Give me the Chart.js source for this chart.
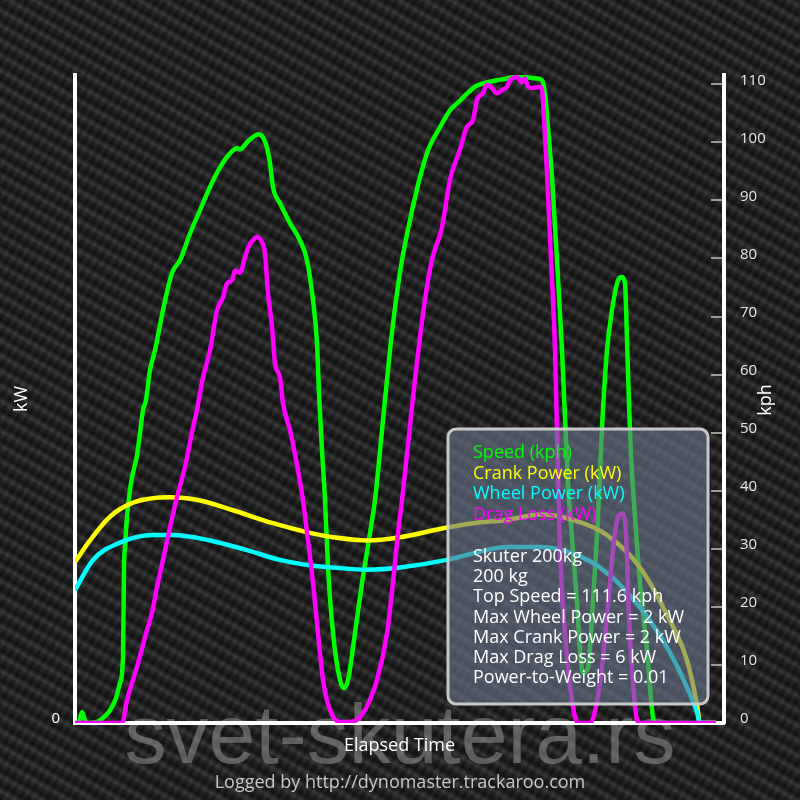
<!DOCTYPE html>
<html>
<head>
<meta charset="utf-8">
<script src="https://cdn.jsdelivr.net/npm/chart.js@4.4.0/dist/chart.umd.min.js"></script>
<style>
  body { margin: 0; background: #222; }
  #wrap {
    width: 800px;
    height: 800px;
    background-color: #262626;
    background-image:
      repeating-linear-gradient(30deg, rgba(0,0,0,0.45) 0px, rgba(0,0,0,0.1) 5px, rgba(255,255,255,0.07) 8px, rgba(0,0,0,0.45) 13px),
      repeating-linear-gradient(120deg, rgba(0,0,0,0.25) 0px, rgba(255,255,255,0.04) 4px, rgba(0,0,0,0.25) 8px);
  }
</style>
</head>
<body>
<div id="wrap"><canvas id="dyno" width="800" height="800"></canvas></div>
<script>
var speedTime = [0, 4, 7, 10, 13, 22, 30, 35, 41, 45, 48, 49, 50, 52, 55, 57, 62, 65, 68, 71,
  75, 80, 88, 97, 105, 115, 125, 135, 145, 155, 162, 165, 172, 178, 183, 188, 192, 195, 198, 205,
  215, 225, 232, 238, 242, 244, 247, 250, 253, 258, 265, 269, 273, 280, 287, 295, 300, 307, 315, 321,
  327, 335, 345, 353, 365, 375, 385, 392, 402, 412, 422, 432, 442, 452, 462, 467, 470, 473, 477, 480,
  482, 487, 490, 493, 498, 503, 505, 508, 513, 518, 523, 527, 532, 537, 543, 547, 550, 552, 554, 556,
  560, 565, 572, 578, 581, 641];
var speedKph = [0, 0.2, 1.9, 0.5, 0, 0.2, 1.2, 2.2, 4.3, 6.9, 11.4, 26.9, 30.3, 35.5, 40.1, 42.3, 46.1, 49.9, 53.9, 55.6,
  60.8, 64.2, 71.1, 77.5, 79.7, 84.3, 88.3, 92.3, 95.7, 98.1, 99.0, 98.8, 100.0, 100.9, 101.4, 100.9, 99.1, 96.4, 92.3, 89.5,
  86.1, 83.1, 79.7, 72.8, 65.4, 56.8, 47.0, 38.4, 26.9, 15.5, 7.4, 6.0, 7.4, 15.5, 24.1, 32.7, 38.4, 50.4, 64.2, 72.8,
  79.7, 86.6, 94.0, 98.6, 102.6, 105.5, 107.2, 108.4, 109.8, 110.3, 110.7, 111.0, 111.4, 111.2, 111.0, 110.7, 108.4, 102.6, 94.0, 85.4,
  79.7, 64.2, 52.7, 41.3, 29.8, 18.2, 12.6, 8.6, 9.6, 21.2, 35.5, 50.9, 64.2, 71.1, 76.2, 76.8, 75.7, 66.0, 55.0, 46.0,
  35.5, 24.1, 12.6, 1.0, 0, 0];

var crankTime = [0, 15, 35, 58, 95, 125, 158, 198, 235, 258, 292, 325, 372, 398, 432, 465, 498, 532, 565, 592, 612, 622, 625, 641];
var crankKw = [1.49, 1.69, 1.91, 2.04, 2.09, 2.06, 1.97, 1.85, 1.76, 1.72, 1.69, 1.72, 1.81, 1.85, 1.88, 1.93, 1.88, 1.74, 1.44, 1.00, 0.58, 0.17, 0, 0];

var wheelTime = [0, 18, 45, 78, 98, 135, 172, 205, 235, 258, 292, 325, 372, 398, 432, 465, 498, 532, 565, 592, 612, 622, 625, 641];
var wheelKw = [1.23, 1.51, 1.67, 1.74, 1.74, 1.69, 1.60, 1.51, 1.46, 1.44, 1.42, 1.44, 1.51, 1.57, 1.63, 1.63, 1.57, 1.39, 1.07, 0.70, 0.33, 0.10, 0, 0];

var dragTime = [0, 47, 52, 62, 72, 77, 82, 88, 95, 102, 110, 117, 122, 128, 135, 142, 148, 152, 157, 160,
  165, 170, 173, 178, 182, 187, 190, 193, 197, 200, 205, 208, 215, 222, 228, 233, 238, 243, 248, 255,
  265, 275, 288, 302, 312, 318, 323, 327, 335, 340, 350, 357, 367, 375, 385, 392, 398, 402, 408, 412,
  417, 422, 427, 432, 435, 442, 447, 450, 453, 458, 465, 467, 469, 472, 476, 480, 482, 485, 490, 497,
  503, 515, 525, 532, 538, 543, 547, 551, 554, 558, 562, 565, 641];
var dragKw = [0, 0, 0.21, 0.52, 0.86, 1.02, 1.26, 1.51, 1.81, 2.09, 2.37, 2.69, 2.90, 3.20, 3.45, 3.82, 3.94, 4.07, 4.10, 4.19,
  4.17, 4.31, 4.40, 4.47, 4.50, 4.45, 4.35, 3.98, 3.67, 3.33, 3.20, 2.96, 2.71, 2.39, 2.06, 1.69, 1.30, 0.83, 0.40, 0.12,
  0.01, 0.01, 0.09, 0.40, 0.83, 1.30, 1.76, 2.06, 2.75, 3.18, 3.92, 4.29, 4.59, 5.03, 5.31, 5.52, 5.58, 5.77, 5.83, 5.91,
  5.88, 5.83, 5.86, 5.89, 5.95, 5.98, 5.93, 5.97, 5.89, 5.88, 5.89, 5.86, 5.60, 5.10, 4.30, 3.45, 2.70, 1.60, 0.83, 0.21,
  0, 0, 0.37, 0.98, 1.60, 1.91, 1.94, 1.76, 0.98, 0.37, 0.03, 0, 0];

var seriesLabels = ["Speed (kph)", "Crank Power (kW)", "Wheel Power (kW)", "Drag Loss (kW)"];
var seriesColors = ["#00ff00", "#ffff00", "#00ffff", "#ff00ff"];
var infoLines = [
  "Skuter 200kg",
  "200 kg",
  "Top Speed = 111.6 kph",
  "Max Wheel Power = 2 kW",
  "Max Crank Power = 2 kW",
  "Max Drag Loss = 6 kW",
  "Power-to-Weight = 0.01"
];

var FONT = '"Open Sans", "DejaVu Sans", sans-serif';

function pairs(xs, ys) {
  return xs.map(function (x, i) {
    return { x: x, y: ys[i] };
  });
}

// watermark goes under the axes and lines, info box + texts on top
var overlay = {
  id: "overlay",
  beforeDraw: function (chart) {
    var ctx = chart.ctx;
    ctx.save();
    ctx.font = '84px "Liberation Sans", Arial, sans-serif';
    ctx.fillStyle = "rgba(150,150,150,0.55)";
    ctx.textAlign = "center";
    ctx.textBaseline = "alphabetic";
    ctx.fillText("svet-skutera.rs", 400, 763);
    ctx.restore();
  },
  afterDraw: function (chart) {
    var ctx = chart.ctx;
    ctx.save();
    // info box
    ctx.beginPath();
    ctx.roundRect(448, 429, 260, 275, 8);
    ctx.fillStyle = "rgba(105,118,140,0.62)";
    ctx.fill();
    ctx.lineWidth = 3;
    ctx.strokeStyle = "#c8c8c8";
    ctx.stroke();

    ctx.font = "18px " + FONT;
    ctx.textAlign = "left";
    ctx.textBaseline = "alphabetic";
    seriesLabels.forEach(function (txt, i) {
      ctx.fillStyle = seriesColors[i];
      ctx.fillText(txt, 473, 458 + i * 20.5);
    });
    ctx.fillStyle = "#ffffff";
    infoLines.forEach(function (txt, i) {
      ctx.fillText(txt, 473, 562 + i * 20.2);
    });

    // right axis title, reads bottom to top
    ctx.translate(766, 400);
    ctx.rotate(-Math.PI / 2);
    ctx.textAlign = "center";
    ctx.textBaseline = "middle";
    ctx.fillStyle = "#ffffff";
    ctx.fillText("kph", 0, 0);
    ctx.restore();

    // footer
    ctx.save();
    ctx.font = "18px " + FONT;
    ctx.fillStyle = "#c8c8c8";
    ctx.textAlign = "center";
    ctx.textBaseline = "middle";
    ctx.fillText("Logged by http://dynomaster.trackaroo.com", 400, 783);
    ctx.restore();
  }
};

var dynoChart = new Chart(document.getElementById("dyno").getContext("2d"), {
  type: "line",
  data: {
    datasets: [
      { label: seriesLabels[0], data: pairs(speedTime, speedKph), yAxisID: "kph", borderColor: seriesColors[0], order: 3 },
      { label: seriesLabels[1], data: pairs(crankTime, crankKw), yAxisID: "kw", borderColor: seriesColors[1], order: 2 },
      { label: seriesLabels[2], data: pairs(wheelTime, wheelKw), yAxisID: "kw", borderColor: seriesColors[2], order: 1 },
      { label: seriesLabels[3], data: pairs(dragTime, dragKw), yAxisID: "kw", borderColor: seriesColors[3], order: 0 },
    ],
  },
  options: {
    responsive: false,
    animation: false,
    layout: { padding: { top: 75 } },
    elements: {
      point: { radius: 0 },
      line: { borderWidth: 4.5, cubicInterpolationMode: "monotone", fill: false },
    },
    plugins: {
      legend: { display: false },
      tooltip: { enabled: false },
    },
    scales: {
      x: {
        type: "linear",
        min: 0,
        max: 649,
        ticks: { display: false },
        grid: { display: false, drawTicks: false },
        border: { color: "#ffffff", width: 4 },
        title: {
          display: true,
          text: "Elapsed Time",
          color: "#ffffff",
          font: { family: FONT, size: 18 },
          padding: { top: 0, bottom: 43 },
        },
        afterFit: function (s) { s.height = 77; },
      },
      kw: {
        position: "left",
        min: 0,
        max: 6,
        afterBuildTicks: function (s) { s.ticks = [{ value: 0 }]; },
        ticks: { color: "#ffffff", font: { family: FONT, size: 15 }, padding: 15, labelOffset: -4 },
        grid: { display: false, drawTicks: false },
        border: { color: "#ffffff", width: 4 },
        title: {
          display: true,
          text: "kW",
          color: "#ffffff",
          font: { family: FONT, size: 18 },
          padding: { top: 11, bottom: 0 },
        },
        afterFit: function (s) { s.width = 75; },
      },
      kph: {
        position: "right",
        min: 0,
        max: 111.6,
        ticks: {
          stepSize: 10,
          includeBounds: false,
          color: "#e6e6e6",
          font: { family: FONT, size: 15 },
          padding: 29,
          labelOffset: -4,
        },
        grid: { drawOnChartArea: false, tickLength: -13, color: "#9a9a9a", lineWidth: 2 },
        border: { color: "#ffffff", width: 4 },
        afterFit: function (s) { s.width = 76; },
      },
    },
  },
  plugins: [overlay],
});
</script>
</body>
</html>
